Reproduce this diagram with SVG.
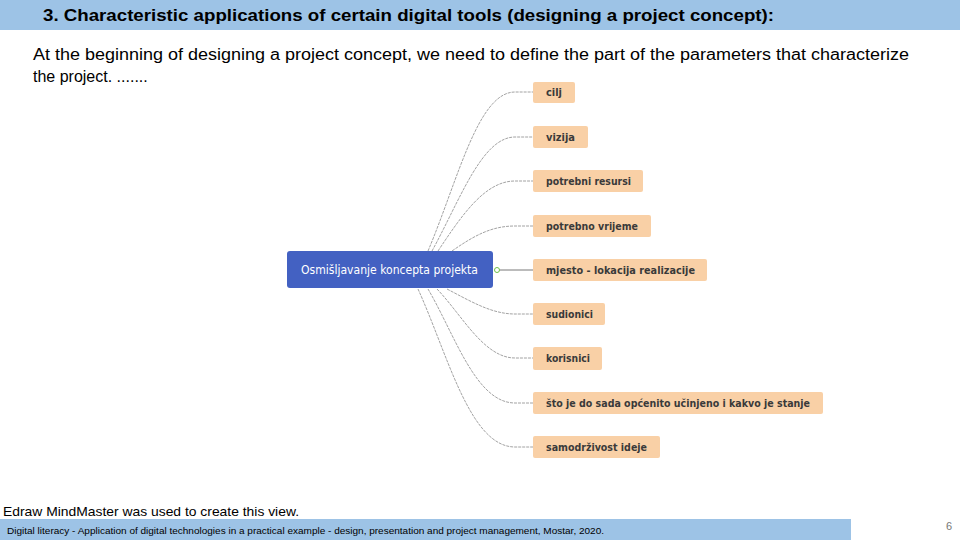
<svg xmlns="http://www.w3.org/2000/svg" width="960" height="540" viewBox="0 0 960 540">
<style>
.bar{fill:#9dc3e6}
.title{font-family:"Liberation Sans Narrow","Liberation Sans",Arial,sans-serif;font-weight:bold;font-size:17px;fill:#000}
.body{font-family:"Liberation Sans",Arial,sans-serif;font-size:16px;fill:#000}
.note{font-family:"Liberation Sans",Arial,sans-serif;font-size:13px;fill:#000}
.foot{font-family:"Liberation Sans Narrow","Liberation Sans",Arial,sans-serif;font-size:9.5px;fill:#000}
.page{font-family:"Liberation Sans",Arial,sans-serif;font-size:11px;fill:#777}
.root rect{fill:#4361c2}
.root text{font-family:Tahoma,"DejaVu Sans","Liberation Sans",sans-serif;font-size:12px;fill:#fff}
.leaf rect{fill:#f9d0a6}
.leaf text{font-family:Tahoma,"DejaVu Sans","Liberation Sans",sans-serif;font-size:11px;font-weight:bold;fill:#3a3a3a}
.conn path{fill:none;stroke:#8a8a8a;stroke-width:0.8;stroke-dasharray:3 1}
</style>
<rect class="bar" x="0" y="0" width="960" height="30"/>
<text class="title" x="43" y="21" textLength="731" lengthAdjust="spacingAndGlyphs">3. Characteristic applications of certain digital tools (designing a project concept):</text>
<text class="body" x="33" y="60" textLength="876" lengthAdjust="spacingAndGlyphs">At the beginning of designing a project concept, we need to define the part of the parameters that characterize</text>
<text class="body" x="33" y="82">the project. .......</text>

<g class="conn" id="connectors">
<path d="M428,251 C458,180 478,92 515,92 L533,92"/>
<path d="M432,251 C460,200 482,137 515,137 L533,137"/>
<path d="M438,251 C462,215 485,181 515,181 L533,181"/>
<path d="M452,251 C475,235 492,226 515,226 L533,226"/>
<path d="M497,270 L533,270" style="stroke:#555;stroke-dasharray:none"/>
<path d="M447,289 C472,302 492,314 515,314 L533,314"/>
<path d="M437,289 C462,315 484,358 515,358 L533,358"/>
<path d="M428,289 C455,335 476,403 515,403 L533,403"/>
<path d="M418,289 C448,355 470,447 515,447 L533,447"/>
<circle cx="497" cy="270" r="2.5" fill="#fff" stroke="#6fbf4a" stroke-width="1"/>
</g>

<g class="root" id="node-root">
<rect x="287" y="251" width="206" height="37" rx="3"/>
<text x="301" y="274" textLength="177" lengthAdjust="spacingAndGlyphs">Osmišljavanje koncepta projekta</text>
</g>
<g class="leaf" id="node-cilj"><rect x="533" y="82" width="42" height="21" rx="2"/><text x="546" y="96" textLength="16" lengthAdjust="spacingAndGlyphs">cilj</text></g>
<g class="leaf" id="node-vizija"><rect x="533" y="126" width="55" height="22" rx="2"/><text x="546" y="141" textLength="29" lengthAdjust="spacingAndGlyphs">vizija</text></g>
<g class="leaf" id="node-resursi"><rect x="533" y="170" width="110" height="22" rx="2"/><text x="546" y="185" textLength="85" lengthAdjust="spacingAndGlyphs">potrebni resursi</text></g>
<g class="leaf" id="node-vrijeme"><rect x="533" y="215" width="118" height="22" rx="2"/><text x="546" y="230" textLength="92" lengthAdjust="spacingAndGlyphs">potrebno vrijeme</text></g>
<g class="leaf" id="node-mjesto"><rect x="533" y="259" width="174" height="22" rx="2"/><text x="546" y="274" textLength="149" lengthAdjust="spacingAndGlyphs">mjesto - lokacija realizacije</text></g>
<g class="leaf" id="node-sudionici"><rect x="533" y="303" width="72" height="22" rx="2"/><text x="546" y="318" textLength="47" lengthAdjust="spacingAndGlyphs">sudionici</text></g>
<g class="leaf" id="node-korisnici"><rect x="533" y="347" width="69" height="23" rx="2"/><text x="546" y="362" textLength="44" lengthAdjust="spacingAndGlyphs">korisnici</text></g>
<g class="leaf" id="node-stanje"><rect x="533" y="392" width="290" height="22" rx="2"/><text x="546" y="407" textLength="264" lengthAdjust="spacingAndGlyphs">što je do sada općenito učinjeno i kakvo je stanje</text></g>
<g class="leaf" id="node-samodrzivost"><rect x="533" y="436" width="127" height="22" rx="2"/><text x="546" y="451" textLength="101" lengthAdjust="spacingAndGlyphs">samodrživost ideje</text></g>

<text class="note" x="3" y="516" textLength="296" lengthAdjust="spacingAndGlyphs">Edraw MindMaster was used to create this view.</text>
<rect class="bar" x="0" y="519" width="851" height="21"/>
<text class="foot" x="7" y="534" textLength="597" lengthAdjust="spacingAndGlyphs">Digital literacy - Application of digital technologies in a practical example - design, presentation and project management, Mostar, 2020.</text>
<text class="page" x="946" y="530">6</text>
</svg>
